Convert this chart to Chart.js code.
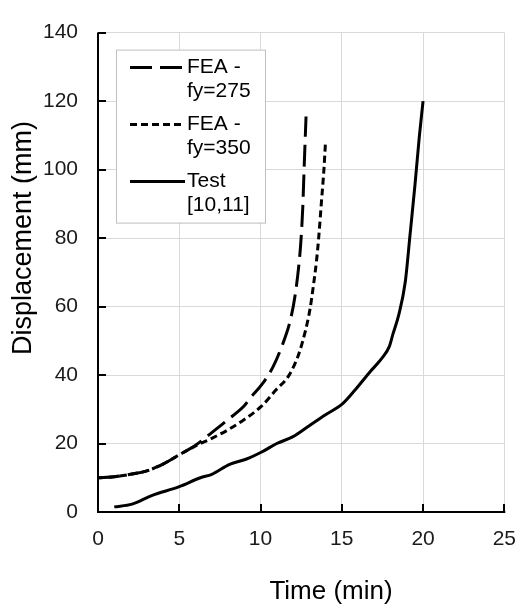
<!DOCTYPE html>
<html><head><meta charset="utf-8">
<style>html,body{margin:0;padding:0;background:#fff}#wrap{width:531px;height:608px;position:relative}</style>
<script src="https://cdn.jsdelivr.net/npm/chart.js@4/dist/chart.umd.min.js"></script>
</head><body><div id="wrap"><canvas id="c" width="531" height="608"></canvas></div>
<script>
// ---- data ----
const seriesNames = [["FEA -", "fy=275"], ["FEA -", "fy=350"], ["Test", "[10,11]"]];
const time275 = [0, 1, 2, 3, 4, 5, 6, 7, 8, 9, 9.37, 10.06, 10.76, 11.36, 11.86, 12.15, 12.39, 12.5, 12.6, 12.68, 12.8];
const disp275 = [10, 10.3, 11, 12, 14, 16.7, 19.5, 23.2, 27, 31, 33.3, 37.1, 42.3, 49, 56.5, 64, 73.6, 80.2, 89, 100, 115.5];
const time350 = [0, 1, 2, 3, 4, 5, 6, 7, 8, 9, 10.06, 10.96, 11.75, 12.35, 12.75, 13.05, 13.25, 13.45, 13.58, 13.75, 13.9, 14.0];
const disp350 = [10, 10.3, 11, 12, 14, 16.7, 19.3, 21.5, 24, 27, 30.9, 35.7, 39.9, 46.1, 52.7, 59.4, 66, 73.6, 80.2, 90.7, 100, 108.2];
const timeTest = [1, 2.1, 3.3, 5, 6.3, 7, 8.1, 9.1, 10.1, 11, 12, 13, 14, 15, 15.83, 16.73, 17.52, 17.92, 18.15, 18.5, 18.9, 19.2, 19.5, 19.77, 20.0];
const dispTest = [1.5, 2.3, 4.8, 7.4, 10, 11, 13.9, 15.4, 17.6, 20, 22, 25.2, 28.4, 31.4, 35.7, 40.9, 45.2, 48.3, 52, 57.5, 67, 81, 95.4, 109.6, 120];
const xTicks = [0, 5, 10, 15, 20, 25];
const yTicks = [0, 20, 40, 60, 80, 100, 120, 140];
const xTitle = "Time (min)";
const yTitle = "Displacement (mm)";

const FONT = '"Liberation Sans", Arial, sans-serif';
const toXY = (xs, ys) => xs.map((x, i) => ({ x: x, y: ys[i] }));

const dashes = [[22, 8], [7, 4], []];
const datasets = [
  { label: seriesNames[0].join(' '), data: toXY(time275, disp275) },
  { label: seriesNames[1].join(' '), data: toXY(time350, disp350) },
  { label: seriesNames[2].join(' '), data: toXY(timeTest, dispTest) }
].map((d, i) => Object.assign(d, {
  borderColor: '#000', backgroundColor: '#000', borderWidth: 3,
  borderDash: dashes[i], pointRadius: 0, showLine: true,
  cubicInterpolationMode: 'monotone', fill: false, borderCapStyle: 'butt'
}));

const decor = {
  id: 'decor',
  afterDraw(chart) {
    const ctx = chart.ctx, a = chart.chartArea;
    const xs = chart.scales.x, ys = chart.scales.y;
    ctx.save();
    // inside tick marks
    ctx.strokeStyle = '#000'; ctx.lineWidth = 2;
    ctx.beginPath();
    xTicks.forEach(v => { const px = Math.round(xs.getPixelForValue(v)); ctx.moveTo(px, a.bottom); ctx.lineTo(px, a.bottom - 8); });
    yTicks.forEach(v => { const py = Math.round(ys.getPixelForValue(v)); ctx.moveTo(a.left, py); ctx.lineTo(a.left + 8, py); });
    ctx.stroke();
    // axis lines
    ctx.beginPath();
    ctx.moveTo(a.left, a.top); ctx.lineTo(a.left, a.bottom); ctx.lineTo(a.right + 1, a.bottom);
    ctx.stroke();
    // axis titles
    ctx.fillStyle = '#000';
    ctx.font = '26px ' + FONT;
    ctx.textAlign = 'center'; ctx.textBaseline = 'middle';
    ctx.fillText(xTitle, 331, 592);
    ctx.save();
    ctx.translate(24, 238); ctx.rotate(-Math.PI / 2);
    ctx.font = '27px ' + FONT;
    ctx.fillText(yTitle, 0, 0);
    ctx.restore();
    // legend
    const lx = a.left + 18, ly = a.top + 17, lw = 149, lh = 173;
    ctx.fillStyle = '#fff'; ctx.fillRect(lx, ly, lw, lh);
    ctx.strokeStyle = '#bfbfbf'; ctx.lineWidth = 1;
    ctx.strokeRect(lx + 0.5, ly + 0.5, lw, lh);
    ctx.font = '21px ' + FONT; ctx.textAlign = 'left'; ctx.textBaseline = 'middle';
    chart.data.datasets.forEach((ds, i) => {
      const y0 = ly + 18 + i * 57;
      ctx.strokeStyle = ds.borderColor; ctx.lineWidth = ds.borderWidth;
      ctx.setLineDash(ds.borderDash); ctx.lineCap = 'butt';
      ctx.beginPath(); ctx.moveTo(lx + 14, y0); ctx.lineTo(lx + 69, y0); ctx.stroke();
      ctx.setLineDash([]);
      ctx.fillStyle = '#000';
      seriesNames[i].forEach((t, j) => ctx.fillText(t, lx + 71, y0 + j * 24));
    });
    ctx.restore();
  }
};

new Chart(document.getElementById('c'), {
  type: 'scatter',
  data: { datasets: datasets },
  options: {
    responsive: false, animation: false, devicePixelRatio: 1,
    layout: { padding: { left: 0, right: 14, top: 20, bottom: 0 } },
    plugins: { legend: { display: false }, tooltip: { enabled: false } },
    scales: {
      x: {
        type: 'linear', min: 0, max: 25,
        afterFit: s => { s.height = 96; },
        afterBuildTicks: s => { s.ticks = xTicks.map(v => ({ value: v })); },
        ticks: { font: { size: 21, family: FONT }, color: '#1a1a1a', padding: 15 },
        grid: { color: '#d9d9d9', lineWidth: 1, drawTicks: false },
        border: { display: false }
      },
      y: {
        type: 'linear', min: 0, max: 140,
        afterFit: s => { s.width = 98; },
        afterBuildTicks: s => { s.ticks = yTicks.map(v => ({ value: v })); },
        ticks: { font: { size: 21, family: FONT }, color: '#1a1a1a', padding: 20 },
        grid: { color: '#d9d9d9', lineWidth: 1, drawTicks: false },
        border: { display: false }
      }
    }
  },
  plugins: [decor]
});
</script>
</body></html>
